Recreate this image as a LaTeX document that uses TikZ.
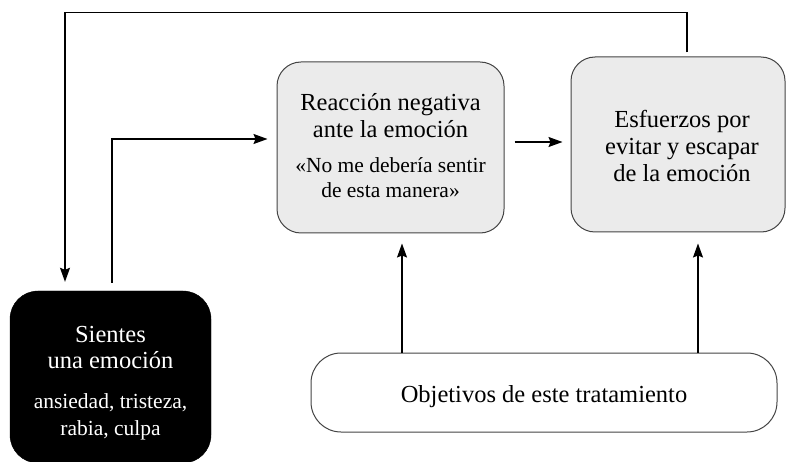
\documentclass[tikz,border=0pt]{standalone}
\usepackage{fontspec}
\setmainfont{Liberation Serif}
\usetikzlibrary{arrows.meta}
\definecolor{boxgrey}{HTML}{EBEBEB}
\definecolor{edgegrey}{HTML}{444444}
\begin{document}
\begin{tikzpicture}[x=1pt,y=-1pt,
  greybox/.style={draw=edgegrey, line width=1pt, fill=boxgrey, rounded corners=24pt, inner sep=0pt},
  blackbox/.style={draw=black, fill=black, rounded corners=28pt, inner sep=0pt},
  whitebox/.style={draw=edgegrey, line width=1pt, fill=white, rounded corners=30pt, inner sep=0pt},
  bigtext/.style={anchor=base, inner sep=0pt, font=\fontsize{24.5}{27}\selectfont},
  smalltext/.style={anchor=base, inner sep=0pt, font=\fontsize{21.5}{25}\selectfont},
  conn/.style={draw=black, line width=1.3pt},
  arr/.style={conn, -{Stealth[length=14pt,width=10pt,inset=2pt]}}
]
\useasboundingbox (0,0) rectangle (787,462);

% boxes
\node[blackbox, minimum width=201pt, minimum height=172pt] (sient) at (110.5,377) {};
\node[greybox, minimum width=227pt, minimum height=171pt] (reac) at (390.5,147.5) {};
\node[greybox, minimum width=214pt, minimum height=175pt] (esf) at (678,144.5) {};
\node[whitebox, minimum width=466pt, minimum height=79pt] (obj) at (544,392.5) {};

% texts
\node[bigtext, text=white] (s1) at (110.5,342) {Sientes};
\node[bigtext, text=white] (s2) at (110.5,368) {una emoción};
\node[smalltext, text=white] (s3) at (110.5,408) {ansiedad, tristeza,};
\node[smalltext, text=white] (s4) at (110.5,435) {rabia, culpa};

\node[bigtext] (r1) at (390.5,111) {Reacción negativa};
\node[bigtext] (r2) at (390.5,138) {ante la emoción};
\node[smalltext] (r3) at (390.5,173) {«No me debería sentir};
\node[smalltext] (r4) at (390.5,198) {de esta manera»};

\node[bigtext] (e1) at (682,128) {Esfuerzos por};
\node[bigtext] (e2) at (682,155) {evitar y escapar};
\node[bigtext] (e3) at (682,182) {de la emoción};

\node[bigtext] (o1) at (544,402) {Objetivos de este tratamiento};

% connectors
\draw[arr, shorten <=4pt, shorten >=9pt]
  ([xshift=9pt]esf.north) -- ++(0,-44) -| ([xshift=-45.5pt]sient.north);
\draw[arr, shorten <=8pt, shorten >=9pt]
  ([xshift=1.5pt]sient.north) |- ([yshift=8.5pt]reac.west);
\draw[arr, shorten <=10pt, shorten >=8pt]
  ([yshift=5.5pt]reac.east) -- ([yshift=5.5pt]reac.east -| esf.west);
\draw[arr, shorten >=10pt]
  ([xshift=-142pt]obj.north) -- ([xshift=-142pt]obj.north |- reac.south);
\draw[arr, shorten >=11pt]
  ([xshift=154pt]obj.north) -- ([xshift=154pt]obj.north |- esf.south);
\end{tikzpicture}
\end{document}
